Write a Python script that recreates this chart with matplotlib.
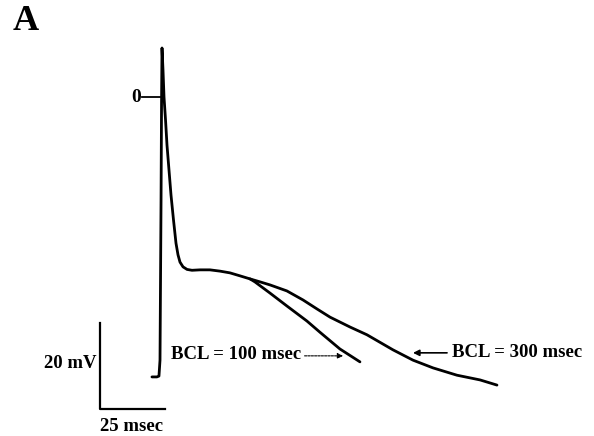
import numpy as np
import matplotlib.pyplot as plt

# ---------------------- DATA ----------------------
# shared part of the action potential (time in msec, voltage in mV)
t_common = [-3.1, -1.2, -0.4, 0.0, 0.4, 0.6, 0.77, 1.15, 1.54, 2.12, 2.69, 3.46, 4.23,
            5.19, 6.15, 6.92, 7.69, 8.85, 10.4, 12.3, 15.4, 19.2, 23.1, 26.9, 30.8, 34.6]
v_common = [-65.1, -65.1, -64.9, -61.2, -24.0, -0.7, 11.4, 6.3, 0.0, -5.3, -11.2, -17.0,
            -22.8, -28.6, -34.0, -36.7, -38.4, -39.5, -40.1, -40.3, -40.2, -40.2, -40.5,
            -40.9, -41.6, -42.3]

# repolarisation, BCL = 300 msec
t_bcl300 = [38.5, 42.3, 48.8, 55.0, 60.4, 65.4, 73.1, 79.6, 89.6, 97.3, 105.0, 114.2, 123.1, 129.6]
v_bcl300 = [-43.0, -43.7, -45.1, -47.2, -49.3, -51.2, -53.5, -55.3, -58.8, -61.2, -63.0, -64.7, -65.8, -67.0]

# repolarisation, BCL = 100 msec
t_bcl100 = [36.5, 42.3, 48.8, 56.5, 61.5, 69.2, 76.9]
v_bcl100 = [-43.0, -45.6, -48.6, -52.1, -54.7, -58.6, -61.6]

SCALE_MV = 20
SCALE_MS = 25
# --------------------------------------------------

plt.rcParams["font.family"] = ["Liberation Serif", "DejaVu Serif"]
plt.rcParams["font.weight"] = "bold"

fig = plt.figure(figsize=(5.94, 4.36), dpi=100)
ax = fig.add_axes([0, 0, 1, 1])
ax.set_xlim(-61.54, 166.92)
ax.set_ylim(-78.84, 22.56)
ax.axis("off")

lw = 2.0
ax.plot(t_common + t_bcl300, v_common + v_bcl300, color="black", lw=lw,
        solid_joinstyle="round", solid_capstyle="round")
ax.plot([t_common[-1]] + t_bcl100, [v_common[-1]] + v_bcl100, color="black", lw=lw,
        solid_joinstyle="round", solid_capstyle="round")

# zero marker
ax.plot([-6.9, 0], [0, 0], color="black", lw=1.3)
ax.text(-7.2, 0, "0", ha="right", va="center", fontsize=14, fontweight="bold")

# scale bars
x0, y0 = -22.9, -72.6
ax.plot([x0, x0, x0 + SCALE_MS], [y0 + SCALE_MV, y0, y0], color="black", lw=1.6)
ax.text(x0 - 1.7, -61.9, f"{SCALE_MV} mV", ha="right", va="center", fontsize=13.5, fontweight="bold")
ax.text(x0, -76.7, f"{SCALE_MS} msec", ha="left", va="center", fontsize=13.5, fontweight="bold")

# labels with arrows
ax.text(4.2, -59.8, "BCL = 100 msec", ha="left", va="center", fontsize=13.5, fontweight="bold")
ax.annotate("", xy=(70.4, -60.2), xytext=(55.6, -60.2),
            arrowprops=dict(arrowstyle="-|>", color="black", lw=0.8, ls=(0, (2, 1)),
                            mutation_scale=8, shrinkA=0, shrinkB=0))
ax.text(112.3, -59.5, "BCL = 300 msec", ha="left", va="center", fontsize=13.5, fontweight="bold")
ax.annotate("", xy=(97.3, -59.5), xytext=(110.4, -59.5),
            arrowprops=dict(arrowstyle="-|>", color="black", lw=1.2,
                            mutation_scale=9, shrinkA=0, shrinkB=0))

fig.text(13 / 594, 1 - 21 / 436, "A", ha="left", va="center", fontsize=26, fontweight="bold")

fig.savefig("out.png", dpi=100)
